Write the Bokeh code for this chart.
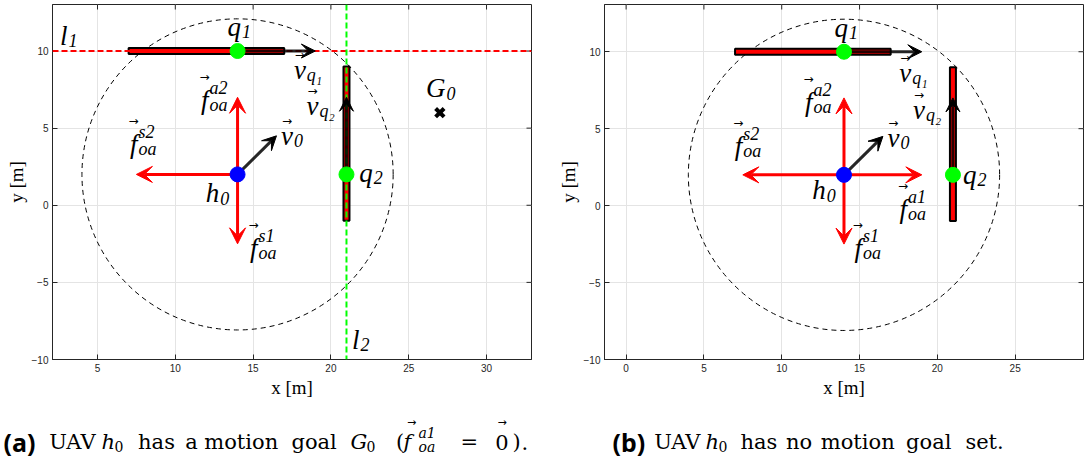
import math
from bokeh.plotting import figure
from bokeh.models import Range1d, ColumnDataSource, Arrow, VeeHead, FixedTicker, Span
from bokeh.layouts import column, row
from bokeh.embed import file_html
from bokeh.resources import INLINE
from bokeh.core.properties import value

# ---------------- data ----------------
xticks_a = [5, 10, 15, 20, 25, 30]
xticks_b = [0, 5, 10, 15, 20, 25]
yticks = [-10, -5, 0, 5, 10]

h0_x, h0_y = 14, 2
q_x = [14, 21]
q_y = [10, 2]
goal_x, goal_y = 27, 6
sense_radius = 10

q1_body_x = [7, 17]      # horizontal obstacle body at y = 10
q1_body_y = 10
q2_body_x = 21           # vertical obstacle body at x = 21
q2_body_y = [-1, 9]

vel_x0 = [14, 21, 14]    # v_q1, v_q2, v_0
vel_y0 = [10, 2, 2]
vel_x1 = [19, 21, 16.5]
vel_y1 = [10, 7, 4.5]

force_a_x1 = [14, 14, 7.5]        # f^a2, f^s1, f^s2
force_a_y1 = [7, -2.5, 2]
force_b_x1 = [14, 14, 7.5, 19]    # f^a2, f^s1, f^s2, f^a1
force_b_y1 = [7, -2.5, 2, 2]

l1_y = 10
l2_x = 21

# labels: base letter, subscript, superscript, anchor x, anchor y (baseline)
lab_a_base = ["l", "q", "v", "f", "v", "G", "f", "v", "q", "h", "f", "l"]
lab_a_sub = ["1", "1", "q\u2081", "oa", "q\u2082", "0", "oa", "0", "2", "0", "oa", "2"]
lab_a_sup = ["", "", "", "a2", "", "", "s2", "", "", "", "s1", ""]
lab_a_x = [3.07, 14.22, 18.39, 12.13, 19.2, 27.37, 7.57, 17.57, 22.69, 12.82, 15.28, 21.83]
lab_a_y = [10.42, 11.0, 8.28, 6.42, 5.92, 7.0, 3.6, 3.99, 1.53, 0.2, -3.18, -9.29]

lab_b_base = ["q", "v", "f", "v", "f", "v", "h", "q", "f", "f"]
lab_b_sub = ["1", "q\u2081", "oa", "q\u2082", "oa", "0", "0", "2", "oa", "oa"]
lab_b_sup = ["", "", "a2", "", "s2", "", "", "", "a1", "s1"]
lab_b_x = [14.25, 18.32, 11.98, 19.21, 7.47, 17.56, 12.83, 22.51, 18.05, 15.15]
lab_b_y = [10.96, 8.12, 6.36, 5.72, 3.5, 3.9, 0.4, 1.43, -0.6, -3.14]

SERIF = "Liberation Serif"
CAPFONT = "DejaVu Serif"
AXC = "#262626"
# per base letter: vertical shift of the whole label and offsets of the vector arrow (px)
LETTER_DY = {"f": -6, "v": -8, "q": -9, "h": -9, "G": -9, "l": -9}
ARROW_OFF = {"v": (-6, -15), "f": (-4, -23)}


def panel(xr, yr, xticks, width, height, left, right, top, bottom,
          fx1, fy1, lb, ls, lp, lx, ly, with_goal):
    p = figure(x_range=Range1d(*xr), y_range=Range1d(*yr),
               width=width, height=height,
               min_border_left=left, min_border_right=right, min_border_top=top,
               min_border_bottom=bottom, output_backend="svg", toolbar_location=None)
    p.outline_line_color = AXC
    p.outline_line_width = 1
    p.xaxis.ticker = FixedTicker(ticks=xticks)
    p.yaxis.ticker = FixedTicker(ticks=yticks)
    p.xaxis.axis_label = "x [m]"
    p.yaxis.axis_label = "y [m]"
    for ax in (p.xaxis[0], p.yaxis[0]):
        ax.major_tick_in = 5
        ax.major_tick_out = 0
        ax.minor_tick_in = 0
        ax.minor_tick_out = 0
        ax.axis_line_color = AXC
        ax.major_tick_line_color = AXC
        ax.major_label_text_font = "Liberation Sans"
        ax.major_label_text_font_size = "10px"
        ax.major_label_text_color = AXC
        ax.major_label_standoff = 4
        ax.axis_label_text_font = SERIF
        ax.axis_label_text_font_size = "19px"
        ax.axis_label_text_font_style = "normal"
        ax.axis_label_text_color = "black"
        ax.axis_label_standoff = 2
    p.grid.grid_line_color = "#e4e4e4"
    # inward ticks on the top and right edges of the box
    p.scatter(x=xticks, y=[yr[1]] * len(xticks), marker="dash", angle=math.pi / 2,
              size=10, line_color=AXC, line_width=1)
    p.scatter(x=[xr[1]] * len(yticks), y=yticks, marker="dash",
              size=10, line_color=AXC, line_width=1)

    # sensing circle
    p.circle(x=[h0_x], y=[h0_y], radius=sense_radius, fill_color=None,
             line_color="black", line_dash="5 4", line_width=1)
    # obstacle bodies
    p.rect(x=[(q1_body_x[0] + q1_body_x[1]) / 2], y=[q1_body_y],
           width=[q1_body_x[1] - q1_body_x[0]], height=6, height_units="screen",
           fill_color="#ff0000", line_color="black", line_width=2)
    p.rect(x=[q2_body_x], y=[(q2_body_y[0] + q2_body_y[1]) / 2],
           height=[q2_body_y[1] - q2_body_y[0]], width=6, width_units="screen",
           fill_color="#ff0000", line_color="black", line_width=2)
    if with_goal:
        p.add_layout(Span(location=l1_y, dimension="width", line_color="#ff0000",
                          line_dash="6 3", line_width=2))
        p.add_layout(Span(location=l2_x, dimension="height", line_color="#00ff00",
                          line_dash="6 3", line_width=2))
    # forces
    fsrc = ColumnDataSource(dict(x0=[h0_x] * len(fx1), y0=[h0_y] * len(fx1), x1=fx1, y1=fy1))
    p.add_layout(Arrow(source=fsrc, x_start="x0", y_start="y0", x_end="x1", y_end="y1",
                       line_color="#ff0000", line_width=3,
                       end=VeeHead(size=16, fill_color="#ff0000", line_color="#ff0000", line_width=1)))
    # velocities
    vsrc = ColumnDataSource(dict(x0=vel_x0, y0=vel_y0, x1=vel_x1, y1=vel_y1))
    p.add_layout(Arrow(source=vsrc, x_start="x0", y_start="y0", x_end="x1", y_end="y1",
                       line_color="black", line_width=3, line_alpha=0.85,
                       end=VeeHead(size=14, fill_color="black", line_color="black", line_width=1)))
    # agents
    p.scatter(x=q_x, y=q_y, size=15, fill_color="#00ff00", line_color="#00ff00", level="overlay")
    p.scatter(x=[h0_x], y=[h0_y], size=15, fill_color="#0000ff", line_color="#0000ff", level="overlay")
    if with_goal:
        p.scatter(x=[goal_x], y=[goal_y], marker="x", size=12, line_width=4,
                  line_color="black", level="overlay")
    # labels
    dy = [LETTER_DY[b] for b in lb]
    src = ColumnDataSource(dict(x=lx, y=ly, base=lb, sub=ls, dy=dy,
                                dsub=[d + 5 for d in dy]))
    p.text(x="x", y="y", text="base", source=src, text_font=value(SERIF),
           text_font_style="italic", text_font_size="27px", text_align="right",
           text_baseline="alphabetic", y_offset="dy", text_color="black", level="overlay")
    p.text(x="x", y="y", text="sub", source=src, text_font=value(SERIF),
           text_font_style="italic", text_font_size="18px", text_align="left",
           text_baseline="alphabetic", y_offset="dsub", x_offset=1, text_color="black",
           level="overlay")
    idx = [i for i, s in enumerate(lp) if s]
    sup_src = ColumnDataSource(dict(x=[lx[i] for i in idx], y=[ly[i] for i in idx],
                                    sup=[lp[i] for i in idx],
                                    d=[dy[i] - 12 for i in idx]))
    p.text(x="x", y="y", text="sup", source=sup_src, text_font=value(SERIF),
           text_font_style="italic", text_font_size="18px", text_align="left",
           text_baseline="alphabetic", y_offset="d", x_offset=1, text_color="black",
           level="overlay")
    vi = [i for i, b in enumerate(lb) if b in ARROW_OFF]
    asrc = ColumnDataSource(dict(x=[lx[i] for i in vi], y=[ly[i] for i in vi],
                                 t=["\u2192"] * len(vi),
                                 ox=[ARROW_OFF[lb[i]][0] for i in vi],
                                 oy=[ARROW_OFF[lb[i]][1] + dy[i] for i in vi]))
    p.text(x="x", y="y", text="t", source=asrc, text_font=value("DejaVu Sans"),
           text_font_size="12px", text_align="center", text_baseline="middle",
           x_offset="ox", y_offset="oy", text_color="black", level="overlay")
    return p


pa = panel((2.108, 32.89), (-10, 13.015), xticks_a, 553, 405, 52, 22, 1, 46,
           force_a_x1, force_a_y1, lab_a_base, lab_a_sub, lab_a_sup, lab_a_x, lab_a_y, True)
pb = panel((-1.388, 29.39), (-10, 13.07), xticks_b, 538, 405, 51, 8, 4, 42,
           force_b_x1, force_b_y1, lab_b_base, lab_b_sub, lab_b_sup, lab_b_x, lab_b_y, False)

# ---------------- captions ----------------
cap = figure(width=1091, height=54, x_range=Range1d(0, 1091), y_range=Range1d(459, 405),
             x_axis_type=None, y_axis_type=None, output_backend="svg",
             toolbar_location=None, min_border=0)
cap.grid.visible = False
cap.outline_line_color = None
BASE = 441.7
runs = [
    (3, "(a)", "Noto Sans", "bold", 25, 0),
    (48.8, "UAV", CAPFONT, "normal", 21, 0),
    (101, "h", CAPFONT, "italic", 21, 0),
    (114, "0", CAPFONT, "normal", 14, 4),
    (137.6, "has", CAPFONT, "normal", 21, 0),
    (184.7, "a", CAPFONT, "normal", 21, 0),
    (203.8, "motion", CAPFONT, "normal", 21, 0),
    (291, "goal", CAPFONT, "normal", 21, 0),
    (350, "G", CAPFONT, "italic", 21, 0),
    (366, "0", CAPFONT, "normal", 14, 4),
    (395.5, "(", CAPFONT, "normal", 21, 0),
    (403, "f", CAPFONT, "italic", 21, 0),
    (418, "a1", CAPFONT, "italic", 14, -9),
    (418, "oa", CAPFONT, "italic", 14, 5),
    (460, "=", CAPFONT, "normal", 21, 0),
    (494.8, "0", CAPFONT, "normal", 21, 0),
    (512, ")", CAPFONT, "normal", 21, 0),
    (521, ".", CAPFONT, "normal", 21, 0),
    (611.9, "(b)", "Noto Sans", "bold", 25, 0),
    (653.7, "UAV", CAPFONT, "normal", 21, 0),
    (705, "h", CAPFONT, "italic", 21, 0),
    (718, "0", CAPFONT, "normal", 14, 4),
    (740, "has", CAPFONT, "normal", 21, 0),
    (785.4, "no", CAPFONT, "normal", 21, 0),
    (820.3, "motion", CAPFONT, "normal", 21, 0),
    (905.6, "goal", CAPFONT, "normal", 21, 0),
    (964.9, "set.", CAPFONT, "normal", 21, 0),
]
for x, t, f, st, sz, d in runs:
    cap.text(x=[x], y=[BASE + d], text=[t], text_font=value(f), text_font_style=st,
             text_font_size=f"{sz}px", text_align="left", text_baseline="alphabetic",
             text_color="black")
# vector arrows over f and 0 in caption (a)
for x in (411, 501.5):
    cap.text(x=[x], y=[BASE - 20], text=["\u2192"], text_font=value("DejaVu Sans"),
             text_font_size="11px", text_align="center", text_baseline="middle",
             text_color="black")

layout = column(row(pa, pb), cap)
open("out.html", "w").write(file_html(layout, INLINE))
